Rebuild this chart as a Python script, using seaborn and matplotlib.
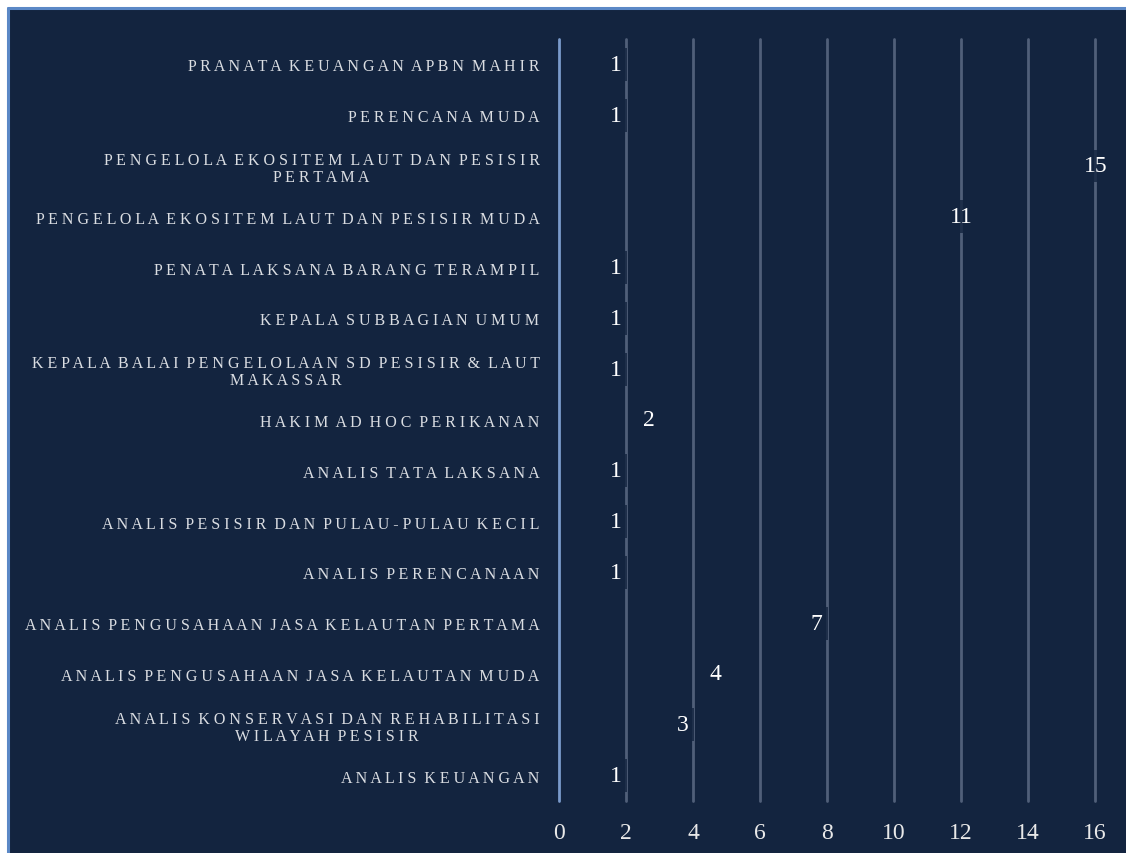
import matplotlib
matplotlib.use("Agg")
import matplotlib.pyplot as plt
import seaborn as sns
import pandas as pd
from matplotlib.patches import Rectangle

# Jabatan (position titles) and the number of staff in each
categories = [
    "PRANATA KEUANGAN APBN MAHIR",
    "PERENCANA MUDA",
    "PENGELOLA EKOSITEM LAUT DAN PESISIR\nPERTAMA",
    "PENGELOLA EKOSITEM LAUT DAN PESISIR MUDA",
    "PENATA LAKSANA BARANG TERAMPIL",
    "KEPALA SUBBAGIAN UMUM",
    "KEPALA BALAI PENGELOLAAN SD PESISIR & LAUT\nMAKASSAR",
    "HAKIM AD HOC PERIKANAN",
    "ANALIS TATA LAKSANA",
    "ANALIS PESISIR DAN PULAU-PULAU KECIL",
    "ANALIS PERENCANAAN",
    "ANALIS PENGUSAHAAN JASA KELAUTAN PERTAMA",
    "ANALIS PENGUSAHAAN JASA KELAUTAN MUDA",
    "ANALIS KONSERVASI DAN REHABILITASI\nWILAYAH PESISIR",
    "ANALIS KEUANGAN",
]
counts = [1, 1, 15, 11, 1, 1, 1, 2, 1, 1, 1, 7, 4, 3, 1]
x_ticks = [0, 2, 4, 6, 8, 10, 12, 14, 16]

BG = "#13243f"
GRID = "#505f79"
AXIS0 = "#7a9acb"
LABEL = "#dadde2"
FONT = "Liberation Serif"


def letter_spaced(text):
    lines = []
    for line in text.split("\n"):
        words = line.split(" ")
        lines.append("  ".join(" ".join(w) for w in words))
    return "\n".join(lines)


df = pd.DataFrame({"jabatan": categories, "jumlah": counts})

sns.set_theme(style="white")
plt.rcParams["font.family"] = [FONT, "DejaVu Serif"]

fig = plt.figure(figsize=(11.26, 8.54), dpi=100, facecolor="white")
# navy panel with a thin blue frame on the top and left edges
fig.patches.append(Rectangle((8 / 1126, 0), 1 - 8 / 1126, 1 - 9 / 854,
                             transform=fig.transFigure, facecolor=BG,
                             edgecolor="none", zorder=-2))
fig.lines.append(plt.Line2D([8 / 1126, 1], [1 - 9 / 854, 1 - 9 / 854],
                            transform=fig.transFigure, color="#5b88c6", lw=2.2, zorder=-1))
fig.lines.append(plt.Line2D([8 / 1126, 8 / 1126], [0, 1 - 9 / 854],
                            transform=fig.transFigure, color="#5b88c6", lw=2.2, zorder=-1))

ax = fig.add_axes([559 / 1126, 1 - 802 / 854, (1095 - 559) / 1126, (802 - 40) / 854])
ax.set_facecolor("none")

# bars share the panel colour, so only the gridlines and value labels show
sns.barplot(data=df, x="jumlah", y="jabatan", orient="h", color=BG,
            saturation=1, width=0.6, linewidth=0, edgecolor="none", ax=ax, zorder=0)

ax.set_xlim(0, 16)
ax.set_ylim(len(categories) - 0.5, -0.5)
ax.set_xticks(x_ticks)
ax.set_xticklabels([str(t) for t in x_ticks])

for t in x_ticks:
    ax.axvline(t, color=AXIS0 if t == 0 else GRID, lw=2.0, zorder=1, clip_on=False)

for s in ax.spines.values():
    s.set_visible(False)
ax.tick_params(axis="both", length=0)
ax.tick_params(axis="x", pad=15, labelsize=17, labelcolor="#e8e8e8")
ax.set_yticks(range(len(categories)))
ax.set_yticklabels([letter_spaced(c) for c in categories], fontsize=11.5,
                   color=LABEL, multialignment="center", linespacing=1.1)
ax.tick_params(axis="y", pad=14)
ax.set_xlabel("")
ax.set_ylabel("")

for i, v in enumerate(counts):
    ax.annotate(str(v), xy=(v, i), xytext=(17 if v < 10 else 22, 0),
                textcoords="offset pixels",
                ha="left", va="center", fontsize=17, color="white", zorder=3,
                bbox=dict(boxstyle="square,pad=0.25", fc=BG, ec="none", alpha=0.8))

fig.savefig("out.png", dpi=100, facecolor=fig.get_facecolor())
